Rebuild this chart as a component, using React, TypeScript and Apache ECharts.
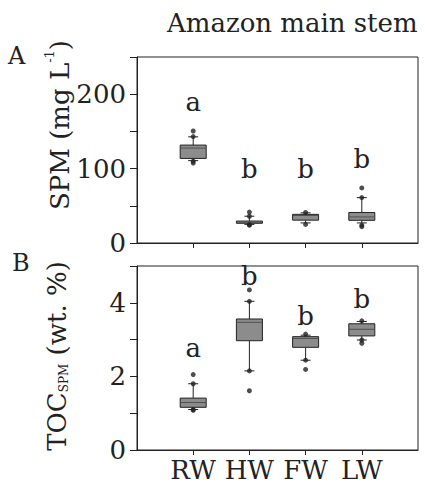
import React, { useEffect, useRef } from 'react';
import * as echarts from 'echarts';

const FONT = 'DejaVu Serif';
const INK = '#222222';

// Water-type categories along the x axis (placed at 1..4 on a 0..5 scale)
const categories = ['RW', 'HW', 'FW', 'LW'];

// SPM (mg L-1): [lower whisker, Q1, median, Q3, upper whisker]
const spmBox = [
  [110.7, 113.7, 127.6, 131.6, 142.7],
  [25, 26.5, 28, 29.5, 36],
  [27, 30.7, 37, 38.5, 40.5],
  [27, 30.5, 35, 41, 61],
];
const spmPoints = [
  [150.5, 143, 110, 107.5],
  [41.5, 36, 24.5, 24],
  [41, 25],
  [74, 61, 24, 22],
];
const spmLetters = ['a', 'b', 'b', 'b'];
const spmLetterAt = [189, 100, 100, 113];

// TOC of SPM (wt. %)
const tocBox = [
  [1.1, 1.16, 1.29, 1.41, 1.8],
  [2.15, 2.97, 3.47, 3.56, 4.04],
  [2.44, 2.79, 3.03, 3.08, 3.12],
  [2.99, 3.1, 3.28, 3.43, 3.49],
];
const tocPoints = [
  [2.05, 1.8, 1.1, 1.08],
  [4.35, 4.04, 2.15, 1.61],
  [3.15, 2.44, 2.19],
  [3.51, 2.99, 2.9],
];
const tocLetters = ['a', 'b', 'b', 'b'];
const tocLetterAt = [2.77, 4.72, 3.65, 4.11];

const BOX_W = 26;
const CAP_W = 10;

function renderBox(params: any, api: any) {
  const x = api.value(0);
  const [cx, yLow] = api.coord([x, api.value(1)]);
  const yQ1 = api.coord([x, api.value(2)])[1];
  const yMed = api.coord([x, api.value(3)])[1];
  const yQ3 = api.coord([x, api.value(4)])[1];
  const yHigh = api.coord([x, api.value(5)])[1];
  const line = { stroke: INK, lineWidth: 1 };
  return {
    type: 'group',
    children: [
      { type: 'line', shape: { x1: cx, y1: yHigh, x2: cx, y2: yQ3 }, style: line },
      { type: 'line', shape: { x1: cx, y1: yLow, x2: cx, y2: yQ1 }, style: line },
      { type: 'line', shape: { x1: cx - CAP_W / 2, y1: yHigh, x2: cx + CAP_W / 2, y2: yHigh }, style: line },
      { type: 'line', shape: { x1: cx - CAP_W / 2, y1: yLow, x2: cx + CAP_W / 2, y2: yLow }, style: line },
      {
        type: 'rect',
        shape: { x: cx - BOX_W / 2, y: yQ3, width: BOX_W, height: yQ1 - yQ3 },
        style: { fill: '#8c8c8c', stroke: INK, lineWidth: 1 },
      },
      { type: 'line', shape: { x1: cx - BOX_W / 2, y1: yMed, x2: cx + BOX_W / 2, y2: yMed }, style: { stroke: '#505050', lineWidth: 1 } },
    ],
  };
}

const boxData = (rows: number[][]) => rows.map((r, i) => [i + 1, ...r]);
const pointData = (rows: number[][]) =>
  rows.flatMap((vals, i) => vals.map((v) => [i + 1, v]));
const letterData = (vals: number[]) => vals.map((v, i) => [i + 1, v]);

function xAxis(gridIndex: number, showLabels: boolean) {
  return {
    type: 'value',
    gridIndex,
    min: 0,
    max: 5,
    interval: 1,
    splitLine: { show: false },
    axisLine: { lineStyle: { color: INK, width: 1 } },
    axisTick: { customValues: [1, 2, 3, 4], length: 5, lineStyle: { color: INK } },
    axisLabel: {
      show: showLabels,
      customValues: [1, 2, 3, 4],
      formatter: (v: number) => categories[v - 1] ?? '',
      fontFamily: FONT,
      fontSize: 26,
      lineHeight: 20,
      color: INK,
      margin: 10,
    },
  };
}

function yAxis(gridIndex: number, max: number, step: number, labelEvery: number) {
  return {
    type: 'value',
    gridIndex,
    min: 0,
    max,
    interval: step,
    splitLine: { show: false },
    axisLine: { lineStyle: { color: INK, width: 1 } },
    axisTick: { length: 7, lineStyle: { color: INK } },
    axisLabel: {
      formatter: (v: number) => (Math.abs(v / labelEvery - Math.round(v / labelEvery)) < 1e-9 && v < max ? String(v) : ''),
      fontFamily: FONT,
      fontSize: 26,
      color: INK,
      margin: 11,
    },
  };
}

function letterSeries(xAxisIndex: number, vals: number[], letters: string[]) {
  return {
    type: 'scatter',
    xAxisIndex,
    yAxisIndex: xAxisIndex,
    symbolSize: 0,
    itemStyle: { color: INK },
    data: letterData(vals),
    label: {
      show: true,
      position: 'inside',
      formatter: (p: any) => letters[p.dataIndex],
      fontFamily: FONT,
      fontSize: 26,
      color: INK,
      textBorderWidth: 0,
      opacity: 1,
    },
    silent: true,
  };
}

export default function App() {
  const ref = useRef<HTMLDivElement>(null);

  useEffect(() => {
    if (!ref.current) return;
    const chart = echarts.init(ref.current, undefined, { renderer: 'svg' });
    chart.setOption({
      animation: false,
      backgroundColor: '#ffffff',
      grid: [
        { left: 137, top: 57, right: 7, height: 186, show: true, borderColor: INK, borderWidth: 1, backgroundColor: 'transparent' },
        { left: 137, top: 266, right: 7, height: 187, show: true, borderColor: INK, borderWidth: 1, backgroundColor: 'transparent' },
      ],
      xAxis: [xAxis(0, false), xAxis(1, true)],
      yAxis: [yAxis(0, 250, 50, 100), yAxis(1, 5, 1, 2)],
      series: [
        {
          type: 'custom',
          xAxisIndex: 0,
          yAxisIndex: 0,
          renderItem: renderBox,
          encode: { x: 0, y: [1, 2, 3, 4, 5] },
          data: boxData(spmBox),
        },
        {
          type: 'scatter',
          xAxisIndex: 0,
          yAxisIndex: 0,
          symbolSize: 5,
          itemStyle: { color: INK },
          data: pointData(spmPoints),
        },
        letterSeries(0, spmLetterAt, spmLetters),
        {
          type: 'custom',
          xAxisIndex: 1,
          yAxisIndex: 1,
          renderItem: renderBox,
          encode: { x: 0, y: [1, 2, 3, 4, 5] },
          data: boxData(tocBox),
        },
        {
          type: 'scatter',
          xAxisIndex: 1,
          yAxisIndex: 1,
          symbolSize: 5,
          itemStyle: { color: INK },
          data: pointData(tocPoints),
        },
        letterSeries(1, tocLetterAt, tocLetters),
      ],
      graphic: [
        {
          type: 'text',
          left: 167,
          top: 10,
          style: { text: 'Amazon main stem', font: `26px "${FONT}"`, fill: INK },
        },
        {
          type: 'text',
          left: 8,
          top: 44,
          style: { text: 'A', font: `24px "${FONT}"`, fill: INK },
        },
        {
          type: 'text',
          left: 12,
          top: 251,
          style: { text: 'B', font: `24px "${FONT}"`, fill: INK },
        },
        {
          type: 'text',
          x: 58,
          y: 125,
          rotation: Math.PI / 2,
          style: {
            text: '{m|SPM (mg L}{s|-1}{m|)}',
            align: 'center',
            verticalAlign: 'middle',
            fill: INK,
            rich: {
              m: { fontFamily: FONT, fontSize: 26, color: INK, verticalAlign: 'bottom', lineHeight: 30 },
              s: { fontFamily: FONT, fontSize: 13, color: INK, verticalAlign: 'top', lineHeight: 30 },
            },
          },
        },
        {
          type: 'text',
          x: 55,
          y: 356,
          rotation: Math.PI / 2,
          style: {
            text: '{m|TOC}{s|SPM}{m| (wt. %)}',
            align: 'center',
            verticalAlign: 'middle',
            fill: INK,
            rich: {
              m: { fontFamily: FONT, fontSize: 26, color: INK, verticalAlign: 'bottom', lineHeight: 30 },
              s: { fontFamily: FONT, fontSize: 12, color: INK, verticalAlign: 'bottom', lineHeight: 30 },
            },
          },
        },
      ],
    });
    return () => chart.dispose();
  }, []);

  return (
    <div
      ref={ref}
      style={{ position: 'fixed', left: 0, top: 0, width: 425, height: 483, background: '#fff' }}
    />
  );
}
